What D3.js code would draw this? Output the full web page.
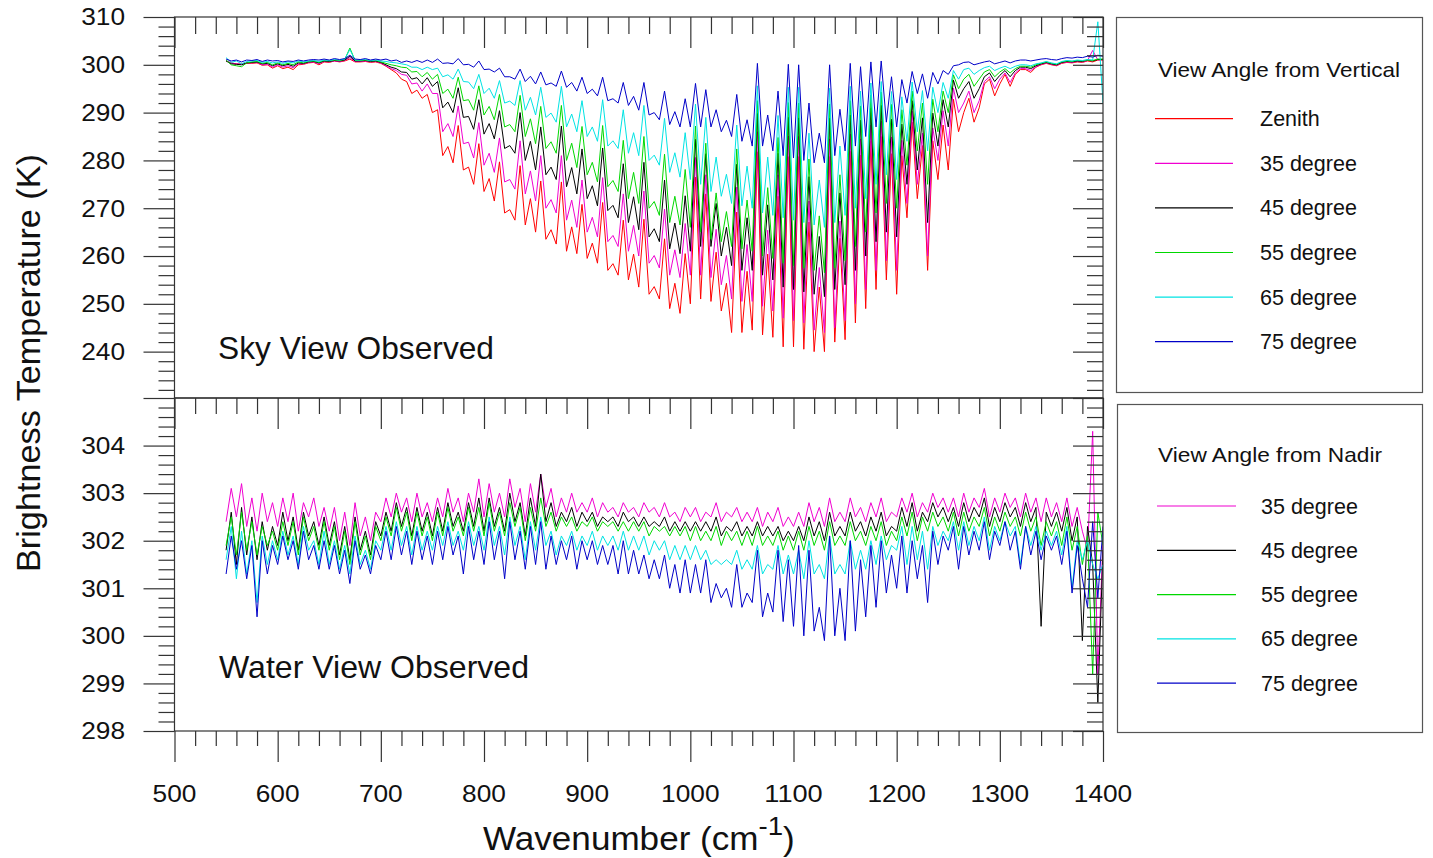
<!DOCTYPE html>
<html><head><meta charset="utf-8">
<script src="https://cdn.jsdelivr.net/npm/d3@7"></script>
<style>
html,body{margin:0;padding:0;background:#fff;}
svg{display:block;font-family:"Liberation Sans",Arial,Helvetica,sans-serif;}
</style></head><body>
<svg id="chart" width="1433" height="858"></svg>
<script>
// ---------------- DATA ----------------
const wavenumbers = [
550,555,560,565,570,575,580,585,590,595,
600,605,610,615,620,625,630,635,640,645,
650,655,660,665,670,675,680,685,690,695,
700,705,710,715,720,725,730,735,740,745,
750,755,760,765,770,775,780,785,790,795,
800,805,810,815,820,825,830,835,840,845,
850,855,860,865,870,875,880,885,890,895,
900,905,910,915,920,925,930,935,940,945,
950,955,960,965,970,975,980,985,990,995,
1000,1005,1010,1015,1020,1025,1030,1035,1040,1045,
1050,1055,1060,1065,1070,1075,1080,1085,1090,1095,
1100,1105,1110,1115,1120,1125,1130,1135,1140,1145,
1150,1155,1160,1165,1170,1175,1180,1185,1190,1195,
1200,1205,1210,1215,1220,1225,1230,1235,1240,1245,
1250,1255,1260,1265,1270,1275,1280,1285,1290,1295,
1300,1305,1310,1315,1320,1325,1330,1335,1340,1345,
1350,1355,1360,1365,1370,1375,1380,1385,1390,1395,
1400];

// Sky view (top panel), brightness temperature in K
const skyZenith = [
300.8,300.4,300.2,300.2,300.3,300.3,300.4,299.9,300,299.3,
299.8,299.2,299.5,299,300,300.1,300.4,300.5,300,300.6,
300.5,300.8,300.6,300.8,301.2,300.6,300.6,300.7,300.5,300.6,
300.3,299.7,299,298.3,297,296.5,294,294.7,293,293.8,
290,290.6,281,282.9,279.5,287.3,278,278.6,275,283.5,
273.5,276.2,271.5,279.7,269,269.7,267.5,278.9,266.5,272,
265,275.7,263.5,265.5,262.5,275.5,261,266.1,260.5,270.8,
259.5,262.7,258.5,271.2,257,258.4,256,267.5,255,260.4,
253.5,267.7,252,253.6,251,263.6,249,254.3,248,260.5,
250,276.5,251,273,250.5,260.8,248.5,254.3,244,269.2,
244,256.8,244.5,281.8,243.5,260.4,243,272.5,241,280.8,
241,280.8,240.5,267.1,240,253.5,240,280.8,242,263.7,
242.5,281.9,246,281.1,249,284,253,285,255,281.4,
252,281,268,288,272,283.1,257,284.1,276,287.4,
278,292.8,286,290,293,288,291,296,297,293.5,
296,298,295.5,298,299,299,298.4,299.5,300,300.3,
300,299.8,300.3,300.5,300.4,300.6,300.5,300.8,300.6,301,
301];
const sky35 = [
300.9,300.3,300.2,300.1,300.4,300.4,300.5,300,300.1,299.5,
300,299.5,299.8,299.4,300.2,300.2,300.5,300.6,300.2,300.7,
300.6,300.8,300.7,300.9,301.5,300.7,300.7,300.8,300.6,300.7,
300.4,299.8,299.2,298.8,298,297.8,296,296.2,294.5,296,
294,294,286,287.7,285,291.4,283.5,283.8,280.5,287.9,
279,281.5,277.5,284.7,275.5,276,274,284.1,273,277.8,
271.5,281,270,271.8,269,281,267.5,271.7,266,275.9,
265,268.1,264,276.4,263,264.3,262,273,261,266.4,
260,273.6,258.5,260.1,257.5,269.8,256,261.3,255.5,266.8,
256,280.6,256,277,255.5,265.6,254,260.1,251,274.4,
250.5,262.4,250.5,286,249.5,265.4,248.5,277,247,285.1,
246.5,285,246,271.5,244.5,257.6,244,284.5,245,267.3,
246.5,285.5,250,284.5,253,287.4,257,288.2,259,284.9,
257,284.2,271,290.3,275,285.7,260,286.8,280,290.4,
283,295.1,290,292,294.5,290,292.5,296.5,297.5,295,
297,298.3,296.3,298.3,299.2,299.2,298.8,299.6,300.1,300.4,
300.1,299.9,300.4,300.6,300.5,300.7,300.6,300.9,303,301,
301.1];
const sky45 = [
300.8,300.2,300.1,300,300.4,300.5,300.6,300.2,300.3,299.8,
300.2,299.8,300.1,299.7,300.4,300.3,300.6,300.7,300.4,300.8,
300.7,300.9,300.8,301,301.8,300.8,300.8,300.9,300.7,300.8,
300.5,300,299.5,299.2,298.5,298.4,297,297.3,296,297.3,
295.5,296.5,291,292.2,290,295.2,289,289.2,286.5,292.7,
285.5,287.7,284.5,290.4,282.5,283.1,281.5,290,280,284,
278,287,277,278.6,276,287.2,274.5,278.5,273,282.4,
272,274.7,270.5,282.6,269.5,270.6,268,279.3,267,272.4,
265.5,279.6,264,265.7,263,275.9,261.5,266.9,260.5,272.6,
261,284.4,262,281.4,262,271,260,266,258,279.2,
257,268,257,289.8,256,270.7,255,281.5,253.5,289,
253,288.9,252.5,276.6,252,264.1,251.5,288.8,253,273.2,
254,289.5,257,288.4,260,291,263,291.5,265,288.6,
264,287.6,275,292.5,278,288.9,267,289.9,283,292.7,
287,296.8,293,295,296.5,293,295,297.5,298.3,296.5,
297.8,298.8,297.5,298.8,299.5,299.5,299.2,299.8,300.2,300.5,
300.2,300,300.5,300.7,300.6,300.8,300.7,301,300.8,301.1,
301.1];
const sky55 = [
301,300,299.8,299.6,300.4,300.6,300.7,300.3,300.5,300,
300.4,300,300.3,300,300.6,300.4,300.7,300.8,300.5,300.9,
300.8,301,300.9,301.1,303.5,300.9,300.9,301,300.8,300.9,
300.6,300.3,300,299.8,299.5,299.4,298.5,298.6,297.5,298.4,
297,298,294,294.9,293,297.4,292.5,292.7,290.5,295.6,
289.5,291.3,288.5,293.8,287,287.5,286,293.6,285,288.7,
283.5,291.3,282.5,283.9,281.5,291.5,280,283.6,278.5,287.1,
277,279.6,275.5,287.3,274.5,275.8,273.5,284.2,272,277.5,
271,285,270,271.4,268.5,281.3,267,272.5,266.5,278.1,
266,287.2,265,283.6,263.5,273.2,263,269.3,262,282.4,
261.5,271.7,261,292.5,260,274.3,259.5,284.8,258.5,292.1,
258,292,257.5,280.3,257,268.4,256.5,291.8,257.5,277,
259,292.5,262,291.4,265,293.7,269,294.3,271,291.7,
270,290.6,279,294.5,282,292,275,292.8,286,294.5,
290,297.9,295,297,298,295.5,297,298.5,299,297.5,
298.5,299.2,298.3,299.2,299.7,299.7,299.5,300,300.3,300.6,
300.3,300.1,300.6,300.8,300.7,300.9,300.8,301,300.9,301.2,
301.2];
const sky65 = [
301.5,300.5,300.8,300.2,300.7,300.8,300.9,300.5,300.7,300.4,
300.6,300.3,300.6,300.4,300.8,300.6,300.8,300.9,300.7,301,
300.9,301.1,301,301.2,303.2,301,301,301.1,300.9,301,
300.8,300.7,300.5,300.4,300.2,300,299.5,299.5,299,299.5,
299,299.3,297.5,297.9,297,299.1,296.5,296.4,295,298,
294,295.1,293,296.7,292,292.4,291.5,296.7,290.5,293.2,
289.5,295.3,289,289.9,288,295.5,287,289.7,286,292.5,
285,287,284,292.7,283,284.1,282.5,290.6,281.5,285.8,
281,291.5,280,281.1,279,288.8,277.5,281.6,276.5,285.8,
276,291.8,275,289,273.5,280.7,272.5,277.1,271,287.4,
270.5,278.8,270,295.6,269,280.7,268.5,289.4,268,295.3,
267.5,295.3,267,285.7,266.5,275.9,266,295.1,267,283,
268.5,295.5,270,294.5,272,296.2,275,296.5,277,294.4,
276,293.3,284,296.4,286,294.6,282,295.3,290,296.3,
293,298.8,297,299,299.3,298,298.8,299.4,299.7,298.8,
299.3,299.7,299.2,299.7,300,300,299.8,300.2,300.4,300.7,
300.4,300.2,300.7,300.9,300.8,301,300.9,301.1,301,309,
292];
const sky75 = [
301.2,300.8,301,300.6,301,300.9,301.1,300.7,301,300.8,
300.9,300.6,300.8,300.7,301,300.8,301,301.1,301,301.2,
301,301.3,301.1,301.3,302,301.2,301.1,301.3,301,301.2,
301,301.2,300.8,301,300.5,300.8,300.5,300.9,300.5,301,
300.5,301.2,300.3,300.4,300.2,301.3,300,300.1,299.5,300.8,
299,299.1,298.5,299.3,297.5,297.5,297,299.1,296.5,297.6,
296,298.5,295.8,296.2,295.5,298.7,295.3,296.3,294.5,297.4,
294,294.9,293.5,297.4,292.5,292.9,292,296.3,291.5,293.4,
290.5,296.3,289.5,290,288.5,294.5,287.5,290.2,287,292.9,
287,296.1,287,294.8,287,290.6,286,288.4,285,293.8,
284,288.5,283,300.3,283,289.5,282,294.5,281,300.1,
280.5,300,280,292,279.5,285.7,279.5,300,281,290.7,
282,300.3,283,299.6,285,300.6,287,300.8,288,297.5,
287,296.9,292,298.6,294,298.1,293,298.4,296,298.8,
298,299.8,300,300.5,300.6,300,300.3,300.6,300.8,300.2,
300.5,300.8,300.4,300.8,301,301,300.8,301,301.2,301.3,
301.1,301,301.3,301.5,301.4,301.6,301.5,301.8,301.6,302,
301.8];

// Water view (bottom panel), brightness temperature in K
const water35 = [
302.4,303.1,302.5,303.2,302.3,302.9,302.2,303.0,302.4,302.8,
302.3,302.9,302.4,303.0,302.2,302.8,302.5,302.9,302.3,302.7,
302.2,302.7,302.0,302.6,301.9,302.8,302.1,302.5,302.0,302.6,
302.4,302.9,302.5,303.0,302.6,302.9,302.4,303.0,302.5,302.8,
302.4,302.9,302.5,303.1,302.6,302.9,302.4,303.0,302.6,303.3,
302.5,303.2,302.6,303.0,302.5,303.3,302.7,303.1,302.4,303.2,
302.6,303.4,302.7,303.1,302.5,302.9,302.6,303.0,302.6,302.8,
302.6,302.9,302.5,302.8,302.6,302.7,302.5,302.8,302.6,302.7,
302.5,302.8,302.6,302.7,302.5,302.8,302.5,302.6,302.4,302.7,
302.5,302.7,302.4,302.6,302.5,302.8,302.4,302.6,302.5,302.7,
302.4,302.6,302.4,302.7,302.3,302.6,302.4,302.7,302.3,302.5,
302.3,302.6,302.3,302.8,302.4,302.7,302.3,302.9,302.4,302.6,
302.4,302.9,302.5,302.7,302.4,302.8,302.5,302.9,302.4,302.6,
302.5,302.9,302.6,303.0,302.5,302.8,302.6,303.0,302.7,302.9,
302.6,302.9,302.5,303.0,302.6,302.9,302.7,303.1,302.5,302.9,
302.6,303.0,302.7,302.9,302.5,303.0,302.6,302.9,302.4,302.9,
302.5,302.8,302.4,302.9,302.3,302.7,302.2,301.8,304.3,299.2,
302.0];
const water45 = [
301.8,302.6,301.5,302.7,301.7,302.5,301.6,302.4,301.8,302.3,
301.9,302.6,302.0,302.5,301.8,302.6,302.1,302.4,301.9,302.5,
301.9,302.4,301.7,302.3,301.6,302.5,301.8,302.2,301.7,302.4,
302.1,302.6,302.2,302.8,302.3,302.7,302.1,302.7,302.2,302.6,
302.1,302.7,302.2,302.8,302.3,302.6,302.2,302.8,302.3,302.9,
302.2,302.9,302.3,302.7,302.2,303.0,302.4,302.8,302.1,302.9,
302.3,303.4,302.4,302.8,302.3,302.6,302.4,302.7,302.3,302.6,
302.4,302.6,302.3,302.5,302.4,302.5,302.3,302.6,302.4,302.5,
302.3,302.5,302.3,302.4,302.3,302.5,302.2,302.4,302.2,302.4,
302.2,302.4,302.2,302.4,302.2,302.5,302.1,302.3,302.2,302.4,
302.1,302.3,302.1,302.4,302.1,302.3,302.1,302.3,302.0,302.2,
302.0,302.3,302.0,302.5,302.1,302.4,302.0,302.6,302.1,302.3,
302.1,302.6,302.2,302.4,302.1,302.5,302.2,302.6,302.1,302.3,
302.2,302.7,302.3,302.8,302.2,302.6,302.4,302.8,302.5,302.7,
302.4,302.7,302.3,302.8,302.4,302.7,302.5,302.9,302.3,302.7,
302.4,302.8,302.5,302.7,302.3,302.8,302.4,302.7,300.2,302.6,
302.3,302.6,302.2,302.7,302.0,302.5,299.9,302.3,301.5,298.6,
301.8];
const water55 = [
301.9,302.5,301.7,302.6,301.8,302.4,301.7,302.3,301.9,302.2,
301.8,302.4,301.9,302.4,301.7,302.5,302.0,302.3,301.8,302.4,
301.8,302.3,301.6,302.2,301.5,302.4,301.7,302.1,301.6,302.3,
302.0,302.5,302.1,302.7,302.2,302.6,302.0,302.6,302.1,302.5,
302.0,302.6,302.1,302.7,302.2,302.5,302.1,302.7,302.2,302.7,
302.1,302.8,302.2,302.6,302.1,302.8,302.3,302.7,302.0,302.7,
302.2,302.9,302.3,302.6,302.2,302.5,302.3,302.5,302.2,302.4,
302.3,302.5,302.2,302.4,302.3,302.4,302.2,302.4,302.2,302.4,
302.2,302.4,302.1,302.3,302.2,302.3,302.1,302.3,302.1,302.3,
302.0,302.3,302.0,302.2,302.0,302.3,301.9,302.2,302.0,302.2,
301.9,302.2,301.9,302.3,301.9,302.1,301.9,302.2,301.8,302.1,
301.8,302.2,301.8,302.3,301.9,302.2,301.8,302.4,301.9,302.1,
301.9,302.4,302.0,302.2,301.9,302.3,302.0,302.4,301.9,302.2,
302.0,302.5,302.1,302.6,302.0,302.5,302.2,302.6,302.3,302.5,
302.2,302.6,302.1,302.6,302.2,302.5,302.3,302.7,302.1,302.5,
302.2,302.6,302.3,302.5,302.1,302.6,302.2,302.5,301.9,302.4,
302.1,302.4,301.9,302.5,301.8,302.3,301.5,302.1,299.2,302.6,
301.9];
const water65 = [
301.6,302.3,301.2,302.2,301.3,302.0,300.7,302.1,301.5,302.0,
301.6,302.2,301.7,302.1,301.5,302.3,301.8,302.0,301.5,302.2,
301.5,302.0,301.4,301.9,301.3,302.1,301.5,301.8,301.4,302.0,
301.8,302.3,301.8,302.4,301.9,302.3,301.7,302.3,301.8,302.2,
301.8,302.3,301.9,302.4,301.9,302.2,301.8,302.4,301.9,302.3,
301.8,302.5,301.9,302.3,301.7,302.5,301.9,302.3,301.6,302.4,
301.8,302.5,301.9,302.2,301.7,302.1,301.9,302.2,301.8,302.1,
301.9,302.2,301.8,302.1,301.9,302.1,301.8,302.2,301.8,302.1,
301.8,302.1,301.7,302.0,301.8,302.0,301.6,301.9,301.6,301.9,
301.6,301.9,301.6,301.8,301.5,301.6,301.5,301.6,301.5,301.8,
301.4,301.6,301.4,301.9,301.3,301.5,301.4,301.9,301.3,301.7,
301.3,301.8,301.2,302.0,301.3,301.5,301.2,302.1,301.3,301.5,
301.3,302.0,301.4,301.8,301.4,302.0,301.5,302.1,301.6,301.9,
301.8,302.3,301.5,302.3,301.6,302.2,301.4,302.3,301.9,302.2,
302.0,302.4,301.8,302.4,301.9,302.3,302.0,302.5,301.8,302.3,
302.0,302.4,302.1,302.3,301.5,302.3,301.9,302.3,301.8,302.2,
301.9,302.2,301.7,302.3,301.0,302.0,301.6,302.0,301.5,301.2,
301.5];
const water75 = [
301.3,302.1,301.4,302.0,301.2,301.9,300.4,302.0,301.3,301.9,
301.5,302.1,301.6,302.0,301.4,302.2,301.6,301.9,301.4,302.0,
301.4,301.9,301.3,301.8,301.1,302.0,301.4,301.7,301.3,301.9,
301.6,302.2,301.6,302.3,301.7,302.2,301.5,302.2,301.6,302.1,
301.5,302.2,301.6,302.3,301.7,302.1,301.3,302.3,301.6,302.2,
301.5,302.4,301.6,302.2,301.2,302.4,301.6,302.2,301.4,302.3,
301.5,302.4,301.4,302.1,301.5,302.0,301.6,302.1,301.4,302.0,
301.6,302.0,301.5,301.9,301.5,301.9,301.3,302.0,301.3,301.8,
301.3,301.7,301.2,301.6,301.2,301.7,301.0,301.5,300.9,301.6,
300.9,301.5,300.9,301.6,300.7,301.1,300.8,301.0,300.6,301.5,
300.6,300.9,300.7,301.8,300.4,300.9,300.5,301.8,300.3,301.6,
300.2,301.9,300.0,301.8,300.1,300.6,299.9,302.1,300.0,301.0,
299.9,302.0,300.1,301.6,300.4,301.9,300.6,302.0,300.9,301.7,
301.0,302.1,300.9,302.0,301.2,301.9,300.7,302.2,301.5,302.1,
301.8,302.3,301.4,302.3,301.7,302.2,301.8,302.4,301.6,302.2,
301.9,302.4,301.8,302.2,301.4,302.3,301.7,302.2,301.6,302.1,
301.8,302.1,301.5,302.2,300.9,301.9,301.2,300.6,302.4,300.8,
302.3];

const skyLegendLabels = ["Zenith","35 degree","45 degree","55 degree","65 degree","75 degree"];
const waterLegendLabels = ["35 degree","45 degree","55 degree","65 degree","75 degree"];
const xTickValues = [500,600,700,800,900,1000,1100,1200,1300,1400];
const skyTickValues = [240,250,260,270,280,290,300,310];
const waterTickValues = [298,299,300,301,302,303,304];

// ---------------- DRAWING ----------------
const svg = d3.select("#chart");
const axisColor = "#333";
const textColor = "#111";
const X0 = 174.5, X1 = 1103, Y0 = 17, YM = 398, Y1 = 731;

const x = d3.scaleLinear().domain([500, 1400]).range([X0, X1]);
const yTop = d3.scaleLinear().domain([230.3, 310]).range([YM, Y0]);
const yBot = d3.scaleLinear().domain([298, 305]).range([Y1, YM]);

const colors = {
  red: "#ff0000", magenta: "#f000d0", black: "#000000",
  green: "#00d800", cyan: "#00e3e3", blue: "#0000c8"
};

const skySeries = [
  {label: skyLegendLabels[0], values: skyZenith, color: colors.red},
  {label: skyLegendLabels[1], values: sky35, color: colors.magenta},
  {label: skyLegendLabels[2], values: sky45, color: colors.black},
  {label: skyLegendLabels[3], values: sky55, color: colors.green},
  {label: skyLegendLabels[4], values: sky65, color: colors.cyan},
  {label: skyLegendLabels[5], values: sky75, color: colors.blue}
];
const waterSeries = [
  {label: waterLegendLabels[0], values: water35, color: colors.magenta},
  {label: waterLegendLabels[1], values: water45, color: colors.black},
  {label: waterLegendLabels[2], values: water55, color: colors.green},
  {label: waterLegendLabels[3], values: water65, color: colors.cyan},
  {label: waterLegendLabels[4], values: water75, color: colors.blue}
];

const defs = svg.append("defs");
defs.append("clipPath").attr("id", "clipTop").append("rect")
  .attr("x", X0).attr("y", Y0).attr("width", X1 - X0).attr("height", YM - Y0);
defs.append("clipPath").attr("id", "clipBot").append("rect")
  .attr("x", X0).attr("y", YM).attr("width", X1 - X0).attr("height", Y1 - YM);

function drawSeries(series, yScale, clipId) {
  const g = svg.append("g").attr("clip-path", `url(#${clipId})`);
  const line = d3.line()
    .defined(d => d != null && !isNaN(d))
    .x((d, i) => x(wavenumbers[i]))
    .y(d => yScale(d));
  series.forEach(s => {
    g.append("path").attr("d", line(s.values))
      .attr("fill", "none").attr("stroke", s.color)
      .attr("stroke-width", 1).attr("stroke-linejoin", "round");
  });
}
drawSeries(skySeries, yTop, "clipTop");
drawSeries(waterSeries, yBot, "clipBot");

// ticks
function tickSet(axisFn, scale, values, size, tx, ty) {
  const g = svg.append("g").attr("transform", `translate(${tx},${ty})`)
    .call(axisFn(scale).tickValues(values).tickSize(size).tickFormat(""));
  g.select(".domain").remove();
  g.selectAll(".tick line").attr("stroke", axisColor).attr("stroke-width", 1.2);
  g.selectAll(".tick text").remove();
}
const xMinor = d3.range(520, 1400, 20).filter(v => v % 100 !== 0);
const skyMinor = d3.range(232, 310, 2).filter(v => v % 10 !== 0);
const waterMajorTicks = waterTickValues.concat([305]);
const waterMinor = d3.range(1, 35).map(i => +(298 + i * 0.2).toFixed(1)).filter((v, i) => (i + 1) % 5 !== 0);

// top panel
tickSet(d3.axisBottom, x, xTickValues, 31, 0, Y0);
tickSet(d3.axisBottom, x, xMinor, 17, 0, Y0);
tickSet(d3.axisLeft, yTop, skyTickValues, 31, X0, 0);
tickSet(d3.axisLeft, yTop, skyMinor, 16, X0, 0);
tickSet(d3.axisLeft, yTop, skyTickValues, 30, X1, 0);
tickSet(d3.axisLeft, yTop, skyMinor, 16, X1, 0);
// bottom panel
tickSet(d3.axisBottom, x, xTickValues, 31, 0, YM);
tickSet(d3.axisBottom, x, xMinor, 16, 0, YM);
tickSet(d3.axisBottom, x, xTickValues, 31, 0, Y1);
tickSet(d3.axisBottom, x, xMinor, 15, 0, Y1);
tickSet(d3.axisLeft, yBot, waterMajorTicks, 31, X0, 0);
tickSet(d3.axisLeft, yBot, waterMinor, 16, X0, 0);
tickSet(d3.axisLeft, yBot, waterMajorTicks, 30, X1, 0);
tickSet(d3.axisLeft, yBot, waterMinor, 16, X1, 0);

// frames
svg.append("rect").attr("x", X0).attr("y", Y0).attr("width", X1 - X0).attr("height", YM - Y0)
  .attr("fill", "none").attr("stroke", axisColor).attr("stroke-width", 1.2);
svg.append("rect").attr("x", X0).attr("y", YM).attr("width", X1 - X0).attr("height", Y1 - YM)
  .attr("fill", "none").attr("stroke", axisColor).attr("stroke-width", 1.2);

// text helpers
function fitText(str, xp, yp, size, width, anchor) {
  const xs = anchor === "end" ? xp - width : anchor === "middle" ? xp - width / 2 : xp;
  return svg.append("text").attr("x", xs).attr("y", yp).attr("font-size", size)
    .attr("fill", textColor).attr("textLength", width).attr("lengthAdjust", "spacingAndGlyphs")
    .text(str);
}
const digitW = 14.6;
skyTickValues.forEach(v => fitText(String(v), 125, yTop(v) + 8.3, 23, String(v).length * digitW, "end"));
waterTickValues.forEach(v => fitText(String(v), 125, yBot(v) + 8.3, 23, String(v).length * digitW, "end"));
xTickValues.forEach(v => fitText(String(v), x(v), 802, 23, String(v).length * digitW, "middle"));

// panel labels
fitText("Sky View Observed", 218, 359, 32, 276, "start");
fitText("Water View Observed", 219, 678, 32, 310, "start");

// y-axis title
svg.append("text").attr("transform", "translate(40,363) rotate(-90)")
  .attr("x", -209).attr("y", 0).attr("font-size", 33).attr("fill", textColor)
  .attr("textLength", 418).attr("lengthAdjust", "spacingAndGlyphs")
  .text("Brightness Temperature (K)");

// x-axis title
const xt = svg.append("g");
const xtText = xt.append("text").attr("x", 0).attr("y", 0).attr("font-size", 33).attr("fill", textColor);
xtText.append("tspan").text("Wavenumber (cm");
xtText.append("tspan").attr("font-size", 26).attr("dy", -15).text("-1");
xtText.append("tspan").attr("dy", 15).text(")");
const xtw = xtText.node().getBBox().width || 290;
const xtTarget = 312;
xt.attr("transform", `translate(${639 - xtTarget / 2},850) scale(${xtTarget / xtw},1)`);

// legends
function legend(boxX, boxY, boxW, boxH, title, titleX, titleY, titleW, series, lineY0, step, lx1, lx2, tx) {
  svg.append("rect").attr("x", boxX).attr("y", boxY).attr("width", boxW).attr("height", boxH)
    .attr("fill", "#fff").attr("stroke", "#555").attr("stroke-width", 1.2);
  fitText(title, titleX, titleY, 21, titleW, "start");
  series.forEach((s, i) => {
    const ly = lineY0 + i * step;
    svg.append("line").attr("x1", lx1).attr("x2", lx2).attr("y1", ly).attr("y2", ly)
      .attr("stroke", s.color).attr("stroke-width", 1.2);
    svg.append("text").attr("x", tx).attr("y", ly + 7.5).attr("font-size", 21.5)
      .attr("fill", textColor).text(s.label);
  });
}
legend(1116.5, 17.5, 306, 375, "View Angle from Vertical", 1158, 76.5, 242,
  skySeries, 118.7, 44.6, 1155, 1233, 1260);
legend(1117.5, 404.5, 305, 328, "View Angle from Nadir", 1158, 462, 224,
  waterSeries, 506, 44.3, 1157, 1236, 1261);
</script>
</body></html>
